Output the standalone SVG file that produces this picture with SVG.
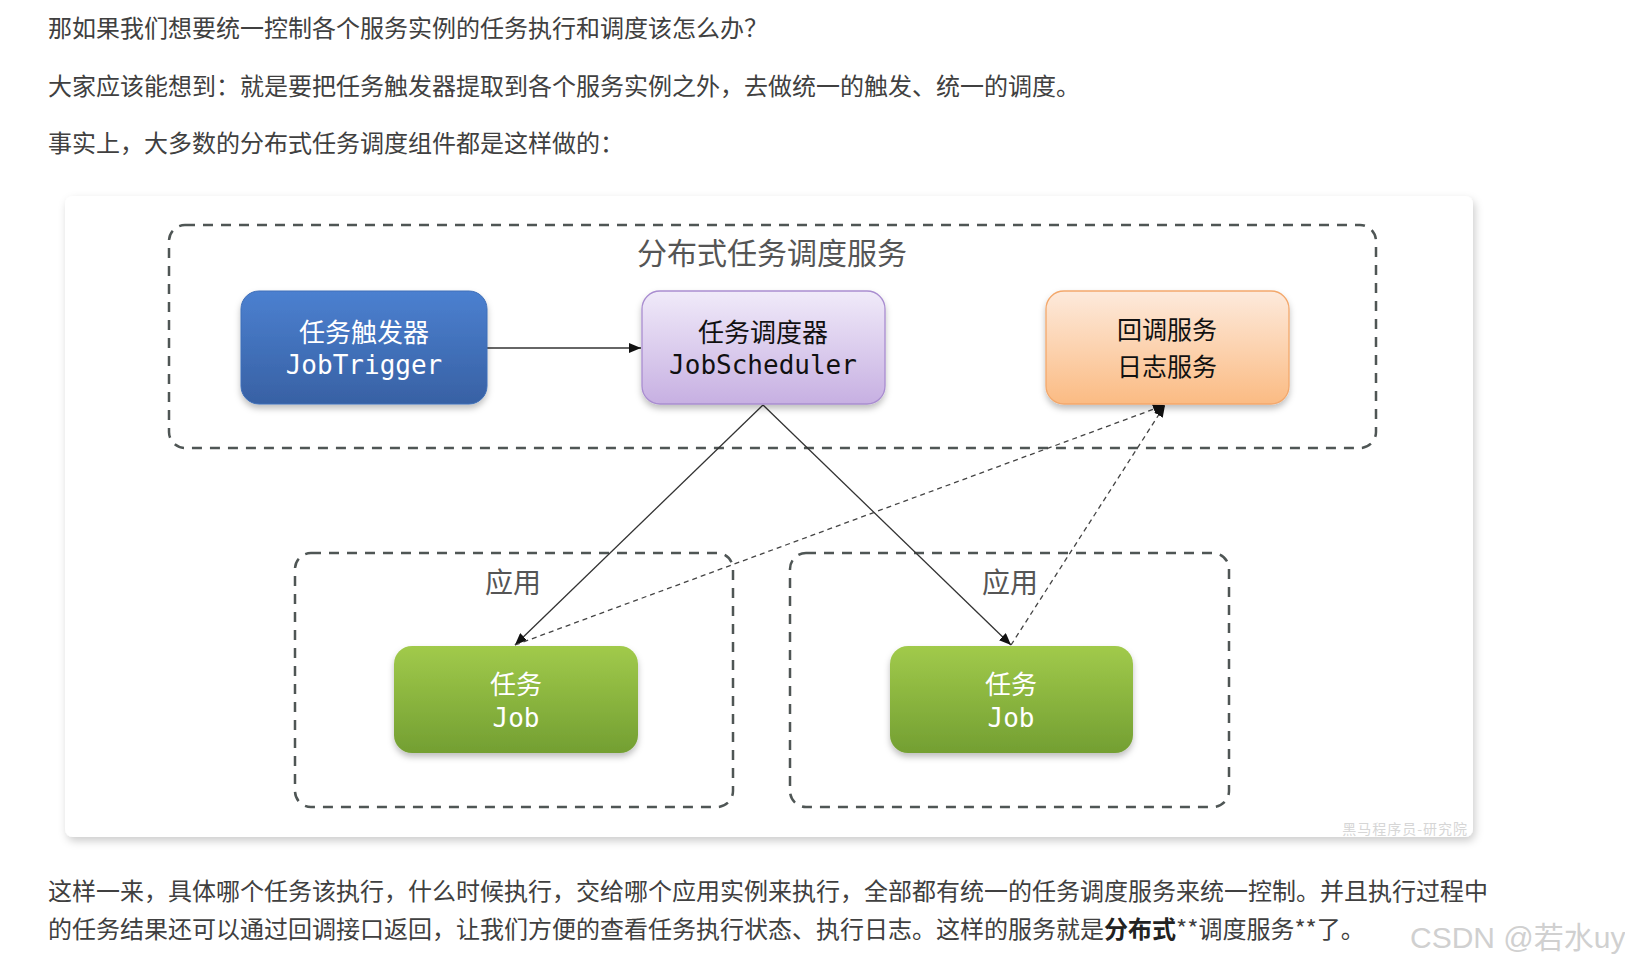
<svg xmlns="http://www.w3.org/2000/svg" width="1625" height="966" viewBox="0 0 1625 966">
<defs>
<style>
.body{font-family:"Noto Sans CJK SC","Noto Sans",sans-serif;font-size:24px;fill:#404040}
.dbox{fill:none;stroke:#4f5655;stroke-width:2.5;stroke-dasharray:10 8}
.cjk{font-family:"Noto Sans CJK SC","Noto Sans",sans-serif;font-size:26px;text-anchor:middle}
.mono{font-family:"DejaVu Sans Mono","Liberation Mono",monospace;font-size:26px;text-anchor:middle}
.lbl{font-family:"Noto Sans CJK SC","Noto Sans",sans-serif;font-size:28px;fill:#555;text-anchor:middle}
.conn{stroke:#333;stroke-width:1.3;fill:none}
.dash{stroke:#444;stroke-width:1.3;fill:none;stroke-dasharray:5 4}
</style>
<linearGradient id="gBlue" x1="0" y1="0" x2="0" y2="1"><stop offset="0" stop-color="#4b80d0"/><stop offset="1" stop-color="#3861a4"/></linearGradient>
<linearGradient id="gPurple" x1="0" y1="0" x2="0" y2="1"><stop offset="0" stop-color="#f0eaf9"/><stop offset="1" stop-color="#c7b0e2"/></linearGradient>
<linearGradient id="gOrange" x1="0" y1="0" x2="0" y2="1"><stop offset="0" stop-color="#fdeadc"/><stop offset="1" stop-color="#fbbb83"/></linearGradient>
<linearGradient id="gGreen" x1="0" y1="0" x2="0" y2="1"><stop offset="0" stop-color="#a1ca4b"/><stop offset="1" stop-color="#739f32"/></linearGradient>
<filter id="cardShadow" x="-5%" y="-5%" width="110%" height="112%"><feDropShadow dx="2" dy="4" stdDeviation="4" flood-color="#000" flood-opacity="0.2"/></filter>
<filter id="nodeShadow" x="-10%" y="-10%" width="120%" height="130%"><feDropShadow dx="0" dy="4" stdDeviation="3" flood-color="#000" flood-opacity="0.25"/></filter>
<marker id="arr" markerUnits="userSpaceOnUse" markerWidth="12" markerHeight="10" refX="12" refY="5" orient="auto"><path d="M0,0 L12,5 L0,10 z" fill="#111"/></marker>
</defs>
<rect width="1625" height="966" fill="#fff"/>

<g id="intro">
<text class="body" x="48" y="37">那如果我们想要统一控制各个服务实例的任务执行和调度该怎么办？</text>
<text class="body" x="48" y="95">大家应该能想到：就是要把任务触发器提取到各个服务实例之外，去做统一的触发、统一的调度。</text>
<text class="body" x="48" y="152">事实上，大多数的分布式任务调度组件都是这样做的：</text>
</g>

<g id="card">
<rect x="65" y="196" width="1408" height="641" rx="8" fill="#fff" filter="url(#cardShadow)"/>
<text x="1468" y="834" text-anchor="end" font-family="Noto Sans CJK SC,sans-serif" font-size="14" fill="#d6d6d6" letter-spacing="1">黑马程序员-研究院</text>
</g>

<g id="service-group">
<rect class="dbox" x="169" y="225" width="1207" height="223" rx="16"/>
<text class="lbl" x="772" y="264" style="font-size:30px">分布式任务调度服务</text>
</g>
<g id="app-left">
<rect class="dbox" x="295" y="553" width="438" height="254" rx="16"/>
<text class="lbl" x="513" y="593">应用</text>
</g>
<g id="app-right">
<rect class="dbox" x="790" y="553" width="439" height="254" rx="16"/>
<text class="lbl" x="1010" y="593">应用</text>
</g>

<g id="connectors">
<line class="conn" x1="487" y1="348" x2="641" y2="348" marker-end="url(#arr)"/>
<line class="conn" x1="763" y1="405" x2="515" y2="645" marker-end="url(#arr)"/>
<line class="conn" x1="763" y1="405" x2="1011" y2="645" marker-end="url(#arr)"/>
<line class="dash" x1="515" y1="645" x2="1165" y2="405" marker-end="url(#arr)"/>
<line class="dash" x1="1011" y1="645" x2="1165" y2="405" marker-end="url(#arr)"/>
</g>

<g id="node-trigger">
<rect x="241" y="291" width="246" height="113" rx="18" fill="url(#gBlue)" stroke="#3f6fb8" stroke-width="1" filter="url(#nodeShadow)"/>
<text class="cjk" x="364" y="342" fill="#fff">任务触发器</text>
<text class="mono" x="364" y="374" fill="#fff">JobTrigger</text>
</g>
<g id="node-scheduler">
<rect x="642" y="291" width="243" height="113" rx="18" fill="url(#gPurple)" stroke="#a98dd0" stroke-width="1.3" filter="url(#nodeShadow)"/>
<text class="cjk" x="763" y="342" fill="#111">任务调度器</text>
<text class="mono" x="763" y="374" fill="#111">JobScheduler</text>
</g>
<g id="node-callback">
<rect x="1046" y="291" width="243" height="113" rx="18" fill="url(#gOrange)" stroke="#f3a86c" stroke-width="1.3" filter="url(#nodeShadow)"/>
<text class="cjk" x="1167" y="339" fill="#111" style="font-size:25px">回调服务</text>
<text class="cjk" x="1167" y="376" fill="#111" style="font-size:25px">日志服务</text>
</g>
<g id="node-job-left">
<rect x="394" y="646" width="244" height="107" rx="18" fill="url(#gGreen)" filter="url(#nodeShadow)"/>
<text class="cjk" x="516" y="694" fill="#fff">任务</text>
<text class="mono" x="516" y="727" fill="#fff">Job</text>
</g>
<g id="node-job-right">
<rect x="890" y="646" width="243" height="107" rx="18" fill="url(#gGreen)" filter="url(#nodeShadow)"/>
<text class="cjk" x="1011" y="694" fill="#fff">任务</text>
<text class="mono" x="1011" y="727" fill="#fff">Job</text>
</g>

<g id="outro">
<text class="body" x="48" y="900">这样一来，具体哪个任务该执行，什么时候执行，交给哪个应用实例来执行，全部都有统一的任务调度服务来统一控制。并且执行过程中</text>
<text class="body" x="48" y="938">的任务结果还可以通过回调接口返回，让我们方便的查看任务执行状态、执行日志。这样的服务就是<tspan font-weight="bold" fill="#222">分布式</tspan>**调度服务**了。</text>
<text x="1410" y="948" font-family="Liberation Sans,Noto Sans CJK SC,sans-serif" font-size="30" fill="#d0d0d0">CSDN @若水uy</text>
</g>
</svg>
